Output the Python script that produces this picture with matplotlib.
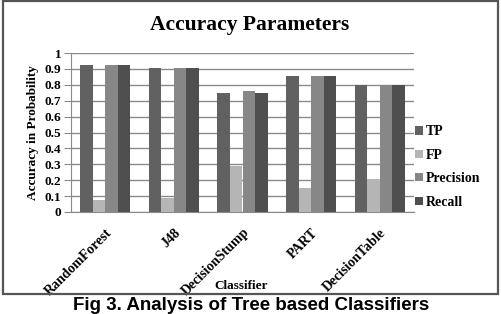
import matplotlib
matplotlib.use("Agg")
import matplotlib.pyplot as plt
from matplotlib.patches import Rectangle
import numpy as np

categories = ["RandomForest", "J48", "DecisionStump", "PART", "DecisionTable"]
tp = [0.925, 0.905, 0.75, 0.855, 0.80]
fp = [0.075, 0.09, 0.29, 0.15, 0.21]
precision = [0.925, 0.905, 0.76, 0.855, 0.80]
recall = [0.925, 0.905, 0.75, 0.855, 0.80]
series_names = ["TP", "FP", "Precision", "Recall"]
colors = ["#616161", "#b5b5b5", "#878787", "#4f4f4f"]

W, H = 502, 314
fig = plt.figure(figsize=(W / 100, H / 100), dpi=100)
serif = "Liberation Serif"

ax = fig.add_axes([71 / W, 1 - 212 / H, (414 - 71) / W, (212 - 53) / H])
x = np.arange(len(categories))
bw = 0.73 / 4
for i, (vals, name, c) in enumerate(zip([tp, fp, precision, recall], series_names, colors)):
    ax.bar(x + (i - 1.5) * bw, vals, bw, color=c, label=name, zorder=3)

ax.set_xlim(-0.5, len(categories) - 0.5)
ax.set_ylim(0, 1)
ax.set_yticks(np.round(np.arange(0, 1.01, 0.1), 1))
ax.set_yticklabels(["0", "0.1", "0.2", "0.3", "0.4", "0.5", "0.6", "0.7", "0.8", "0.9", "1"],
                   fontfamily=serif, fontweight="bold", fontsize=9.5)
ax.yaxis.grid(True, color="#8a8a8a", linewidth=1, zorder=0)
ax.tick_params(axis="y", length=5, color="#8a8a8a", pad=2)
ax.tick_params(axis="x", length=0, pad=10)
for s in ["top", "right"]:
    ax.spines[s].set_visible(False)
ax.spines["left"].set_color("#8a8a8a")
ax.spines["bottom"].set_color("#8a8a8a")

ax.set_xticks(x)
ax.set_xticklabels(categories, rotation=45, ha="right", va="top", rotation_mode="anchor",
                   fontfamily=serif, fontweight="bold", fontsize=10)

ax.set_ylabel("Accuracy in Probability", fontfamily=serif, fontweight="bold", fontsize=9.5, labelpad=4)
fig.text(241 / W, 1 - 286 / H, "Classifier", ha="center", va="center",
         fontfamily=serif, fontweight="bold", fontsize=9.5)

fig.text(250 / W, 1 - 30 / H, "Accuracy Parameters", ha="center", va="baseline",
         fontfamily=serif, fontweight="bold", fontsize=15.5)

leg = ax.legend(loc="center left", bbox_to_anchor=(415 / W, 1 - 167 / H), bbox_transform=fig.transFigure,
                frameon=False, handlelength=0.55, handleheight=0.55, handletextpad=0.2,
                labelspacing=0.75, borderaxespad=0, borderpad=0,
                prop={"family": serif, "weight": "bold", "size": 10})

fig.patches.append(Rectangle((3 / W, 1 - 294 / H), (498 - 3) / W, (294 - 1) / H,
                             transform=fig.transFigure, fill=False, edgecolor="#555555", linewidth=1.6))

fig.text(251 / W, 1 - 306 / H, "Fig 3. Analysis of Tree based Classifiers", ha="center", va="center",
         fontfamily="Liberation Sans", fontweight="bold", fontsize=13.5)

fig.savefig("out.png", dpi=100)
